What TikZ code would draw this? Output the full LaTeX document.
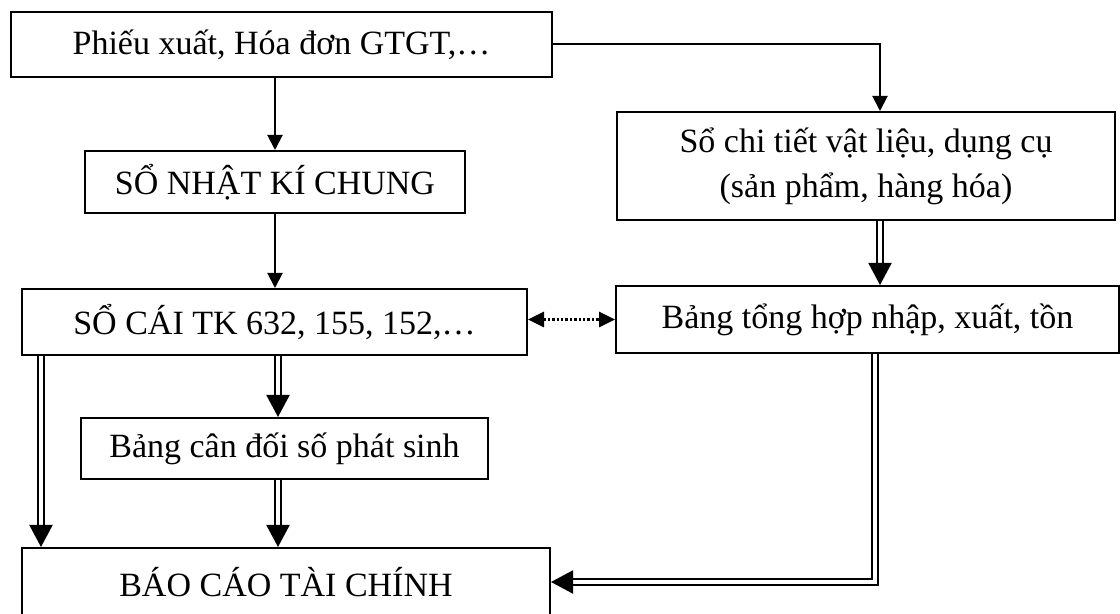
\documentclass[tikz,border=0pt]{standalone}
\usepackage{fontspec}
\setmainfont{Liberation Serif}
\usepackage{tikz}
\usetikzlibrary{arrows.meta}

\begin{document}
\begin{tikzpicture}[box/.style={rectangle, draw=black, line width=1pt, inner sep=0pt, align=center, font=\fontsize{17}{22.5}\selectfont},
arr/.style={line width=1pt, -{Triangle[length=7.5pt, width=7.5pt]}},
dbl/.style={line width=1pt, double, double distance=2pt, -{Triangle[length=11pt, width=11.5pt]}},
dot/.style={line width=1.4pt, dash pattern=on 1.2pt off 1pt, {Triangle[length=8pt, width=7.5pt]}-{Triangle[length=8pt, width=7.5pt]}}]
\useasboundingbox (0pt, 0pt) rectangle (560pt, -307pt);
\node (1) [box, minimum width=270.5pt, minimum height=32.5pt] at (140.75pt, -22.25pt)  {Phiếu xuất, Hóa đơn GTGT,…};
\node (2) [box, minimum width=190pt, minimum height=31pt] at (137.5pt, -91pt)  {SỔ NHẬT KÍ CHUNG};
\node (3) [box, minimum width=252.5pt, minimum height=33pt] at (137.25pt, -161pt)  {SỔ CÁI TK 632, 155, 152,…};
\node (4) [box, minimum width=249pt, minimum height=54pt] at (433pt, -83pt)  {Sổ chi tiết vật liệu, dụng cụ\\(sản phẩm, hàng hóa)};
\node (5) [box, minimum width=251.5pt, minimum height=33.5pt] at (433.75pt, -159.75pt)  {Bảng tổng hợp nhập, xuất, tồn};
\node (6) [box, minimum width=203.5pt, minimum height=30.5pt] at (142.25pt, -224.25pt)  {Bảng cân đối số phát sinh};
\node (7) [box, minimum width=264pt, minimum height=34pt] at (143pt, -291pt)  {BÁO CÁO TÀI CHÍNH};
\draw [arr] (2.north |- 1.south) to  (2.north);
\draw [arr] (2.south) to  (2.south |- 3.north);
\draw [arr] (1.east) -|  ([xshift=7pt]4.north);
\draw [dbl] ([xshift=7pt]4.south) to  ([xshift=7pt]4.south |- 5.north);
\draw [dot] (3.east |- 5.west) to  (5.west);
\draw [dbl] ([xshift=-3.25pt]6.north |- 3.south) to  ([xshift=-3.25pt]6.north);
\draw [dbl] ([xshift=10pt]3.south west) to  ([xshift=10pt]3.south west |- 7.north);
\draw [dbl] ([xshift=-3.25pt]6.south) to  ([xshift=-3.25pt]6.south |- 7.north);
\draw [dbl] ([xshift=3.75pt]5.south) |-  (7.east);
\end{tikzpicture}
\end{document}
